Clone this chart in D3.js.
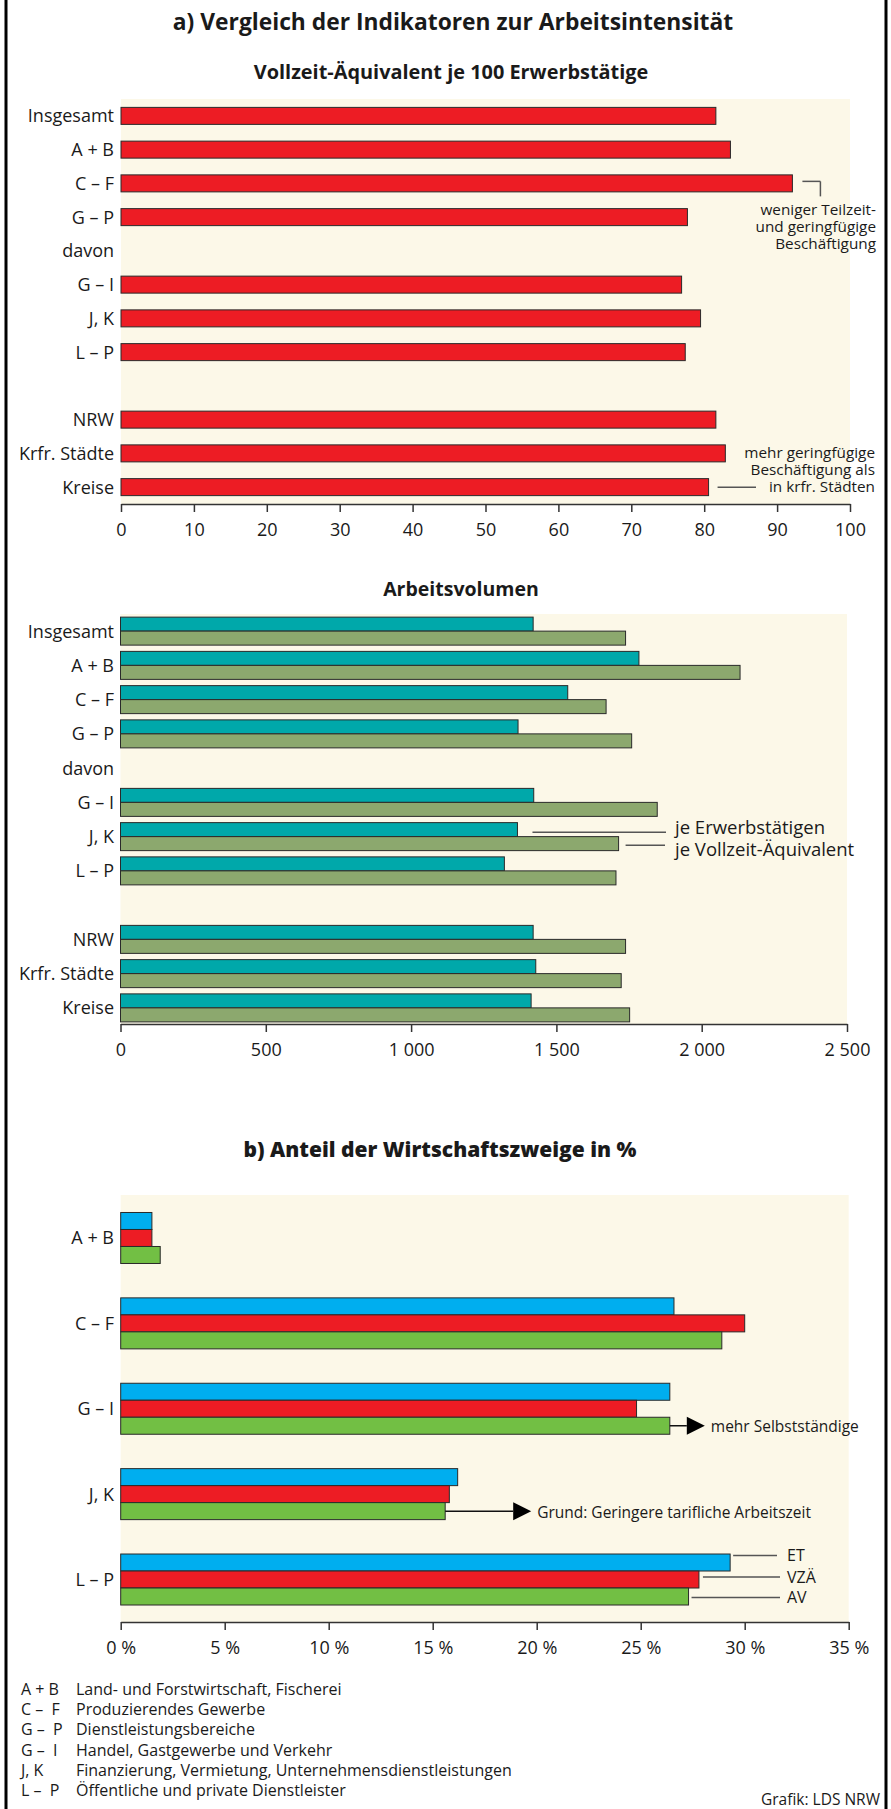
<!DOCTYPE html>
<html><head><meta charset="utf-8">
<script src="https://cdn.jsdelivr.net/npm/d3@7"></script>
<style>
body{margin:0;background:#fff}
text{font-family:"Open Sans",sans-serif;fill:#1a1a1a}
</style>
</head><body>
<svg id="c" width="891" height="1809"></svg>
<script>
// ---------- DATA ----------
const rows1 = ["Insgesamt","A + B","C – F","G – P","davon","G – I","J, K","L – P","","NRW","Krfr. Städte","Kreise"];
const vzaJe100 = [81.6,83.6,92.1,77.7,null,76.9,79.5,77.4,null,81.6,82.9,80.6];
const ticks1 = [0,10,20,30,40,50,60,70,80,90,100];
const tickLabels1 = ["0","10","20","30","40","50","60","70","80","90","100"];

const avJeET  = [1420,1784,1539,1368,null,1422,1366,1321,null,1420,1429,1413];
const avJeVZA = [1738,2132,1671,1759,null,1847,1714,1705,null,1738,1723,1752];
const ticks2 = [0,500,1000,1500,2000,2500];
const tickLabels2 = ["0","500","1 000","1 500","2 000","2 500"];

const rows3 = ["A + B","C – F","G – I","J, K","L – P"];
const series3 = ["ET","VZÄ","AV"];
const shareET  = [1.5,26.6,26.4,16.2,29.3];
const shareVZA = [1.5,30.0,24.8,15.8,27.8];
const shareAV  = [1.9,28.9,26.4,15.6,27.3];
const ticks3 = [0,5,10,15,20,25,30,35];
const tickLabels3 = ["0 %","5 %","10 %","15 %","20 %","25 %","30 %","35 %"];

const legendAbbr = ["A + B","C –  F","G –  P","G –  I","J, K","L –  P"];
const legendText = ["Land- und Forstwirtschaft, Fischerei","Produzierendes Gewerbe","Dienstleistungsbereiche",
  "Handel, Gastgewerbe und Verkehr","Finanzierung, Vermietung, Unternehmensdienstleistungen","Öffentliche und private Dienstleister"];

// ---------- STYLE ----------
const C = {bg:"#fcf8e8", red:"#ed1c24", teal:"#00a8aa", olive:"#8ca86e", blue:"#00aeef", green:"#72bf44", stroke:"#2a2a2a", ann:"#555"};
const svg = d3.select("#c");

// frame
svg.append("line").attr("x1",6).attr("x2",6).attr("y1",0).attr("y2",1809).attr("stroke","#000").attr("stroke-width",3);
svg.append("line").attr("x1",886).attr("x2",886).attr("y1",0).attr("y2",1809).attr("stroke","#000").attr("stroke-width",3);

function title(t, x, y, size, weight){
  svg.append("text").attr("x",x).attr("y",y).attr("text-anchor","middle")
    .attr("font-size",size).attr("font-weight",weight).text(t);
}
function band(domain, y0, y1, bw){
  const step = (y1-y0)/domain.length;
  const p = 1 - bw/step;
  return d3.scaleBand().domain(domain).range([y0,y1]).paddingInner(p).paddingOuter(p/2);
}
function axis(scale, y, vals, labels){
  const ax = d3.axisBottom(scale).tickValues(vals).tickFormat((d,i)=>labels[i])
    .tickSize(8).tickSizeOuter(0).tickPadding(11);
  const g = svg.append("g").attr("transform",`translate(0,${y})`).call(ax)
    .attr("font-family",null).attr("font-size",null);
  g.select(".domain").attr("stroke","#333").attr("stroke-width",1.5);
  g.selectAll(".tick line").attr("stroke","#333").attr("stroke-width",1.5);
  g.selectAll(".tick text").attr("font-size",18).attr("fill","#1a1a1a");
}
function catLabels(y, domain){
  svg.append("g").selectAll("text").data(domain).join("text")
    .attr("x",114).attr("y",d=>y(d)+y.bandwidth()/2).attr("dy","0.36em")
    .attr("text-anchor","end").attr("font-size",18).text(d=>d);
}
function annLine(x1,y1,x2,y2){
  svg.append("line").attr("x1",x1).attr("y1",y1).attr("x2",x2).attr("y2",y2)
    .attr("stroke",C.ann).attr("stroke-width",1.5);
}
function annText(t,x,y,size,anchor){
  svg.append("text").attr("x",x).attr("y",y).attr("dy","0.36em").attr("font-size",size)
    .attr("text-anchor",anchor||"start").text(t);
}
// one text element, several lines
function multiText(lines, x, y0, gap, size, anchor){
  const t = svg.append("text").attr("font-size",size).attr("text-anchor",anchor||"start");
  lines.forEach((l,i)=>t.append("tspan").attr("x",x).attr("y",y0+i*gap).attr("dy","0.36em").text(l));
  return t;
}

// ---------- TITLES ----------
title("a) Vergleich der Indikatoren zur Arbeitsintensität", 453, 30, 22.8, 700);
title("Vollzeit-Äquivalent je 100 Erwerbstätige", 451, 79, 19.9, 700);

// ---------- CHART 1 ----------
{
  const x = d3.scaleLinear().domain([0,100]).range([121,850]);
  const y = band(rows1, 99, 504, 17);
  svg.append("rect").attr("x",x(0)).attr("y",99).attr("width",x(100)-x(0)).attr("height",405).attr("fill",C.bg);
  const data = rows1.map((r,i)=>({r,v:vzaJe100[i]})).filter(d=>d.v!=null);
  svg.append("g").selectAll("rect").data(data).join("rect")
    .attr("x",x(0)).attr("y",d=>y(d.r)).attr("width",d=>x(d.v)-x(0)).attr("height",y.bandwidth())
    .attr("fill",C.red).attr("stroke",C.stroke).attr("stroke-width",1);
  catLabels(y, rows1);
  axis(x, 504, ticks1, tickLabels1);
  // annotation C–F
  const cy = y("C – F")+y.bandwidth()/2 - 2;
  const bx = x(vzaJe100[2]) + 10;
  annLine(bx, cy, bx+18, cy); annLine(bx+18, cy, bx+18, cy+15);
  multiText(["weniger Teilzeit-","und geringfügige","Beschäftigung"], 876, 209, 17, 15.3, "end");
  // annotation Kreise
  const ky = y("Kreise")+y.bandwidth()/2;
  annLine(x(vzaJe100[11])+9, ky, 756, ky);
  multiText(["mehr geringfügige","Beschäftigung als","in krfr. Städten"], 875, 452, 17.3, 15.3, "end");
}

// ---------- CHART 2 ----------
title("Arbeitsvolumen", 461, 596, 19.5, 700);
{
  const x = d3.scaleLinear().domain([0,2500]).range([120.5,847]);
  const y = band(rows1, 614, 1025, 28);
  const ys = d3.scaleBand().domain(["ET","VZA"]).range([0,y.bandwidth()]);
  svg.append("rect").attr("x",x(0)).attr("y",614).attr("width",x(2500)-x(0)).attr("height",410).attr("fill",C.bg);
  const data = [];
  rows1.forEach((r,i)=>{ if(avJeET[i]!=null){ data.push({r,s:"ET",v:avJeET[i]}); data.push({r,s:"VZA",v:avJeVZA[i]}); }});
  svg.append("g").selectAll("rect").data(data).join("rect")
    .attr("x",x(0)).attr("y",d=>y(d.r)+ys(d.s)).attr("width",d=>x(d.v)-x(0)).attr("height",ys.bandwidth())
    .attr("fill",d=>d.s==="ET"?C.teal:C.olive).attr("stroke",C.stroke).attr("stroke-width",1);
  catLabels(y, rows1);
  axis(x, 1024, ticks2, tickLabels2);
  const jy = y("J, K");
  const ty = jy + ys("ET") + ys.bandwidth()/2 + 2.5;
  const gy = jy + ys("VZA") + ys.bandwidth()/2 + 1.5;
  annLine(x(avJeET[6])+15, ty, 666, ty);
  annLine(x(avJeVZA[6])+7, gy, 665, gy);
  multiText(["je Erwerbstätigen","je Vollzeit-Äquivalent"], 675, 827, 22, 18.5);
}

// ---------- CHART 3 ----------
title("b) Anteil der Wirtschaftszweige in %", 440, 1157, 21, 800);
{
  const x = d3.scaleLinear().domain([0,35]).range([120.7,848.7]);
  const y = band(rows3, 1195.3, 1622.2, 51);
  const ys = d3.scaleBand().domain(series3).range([0,y.bandwidth()]);
  svg.append("rect").attr("x",x(0)).attr("y",1195).attr("width",x(35)-x(0)).attr("height",427).attr("fill",C.bg);
  const cols = {"ET":C.blue,"VZÄ":C.red,"AV":C.green};
  const vals = {"ET":shareET,"VZÄ":shareVZA,"AV":shareAV};
  const data = [];
  rows3.forEach((r,i)=>series3.forEach(s=>data.push({r,s,v:vals[s][i]})));
  svg.append("g").selectAll("rect").data(data).join("rect")
    .attr("x",x(0)).attr("y",d=>y(d.r)+ys(d.s)).attr("width",d=>x(d.v)-x(0)).attr("height",ys.bandwidth())
    .attr("fill",d=>cols[d.s]).attr("stroke",C.stroke).attr("stroke-width",1);
  catLabels(y, rows3);
  axis(x, 1622, ticks3, tickLabels3);

  function arrow(i, label){
    const cy = y(rows3[i]) + ys("AV") + ys.bandwidth()/2;
    const x0 = x(shareAV[i]);
    const tip = i===2 ? x0+35 : x0+86;
    svg.append("line").attr("x1",x0).attr("x2",tip-18).attr("y1",cy).attr("y2",cy).attr("stroke","#111").attr("stroke-width",1.5);
    svg.append("path").attr("d",`M${tip-18},${cy-9}L${tip},${cy}L${tip-18},${cy+9}Z`).attr("fill","#000");
    annText(label, tip+6, cy+1, 15.5);
  }
  arrow(2, "mehr Selbstständige");
  arrow(3, "Grund: Geringere tarifliche Arbeitszeit");

  // series labels at L – P
  const li = 4;
  const lbl = [["ET",shareET[li],3,-7],["VZÄ",shareVZA[li],4,-2.5],["AV",shareAV[li],3,1]];
  const ly = [];
  lbl.forEach(([s,v,gap,off])=>{
    const cy = y(rows3[li]) + ys(s) + ys.bandwidth()/2 + off;
    ly.push(cy);
    annLine(x(v)+gap, cy, s==="ET"?777:780, cy);
  });
  const t = svg.append("text").attr("font-size",16);
  lbl.forEach(([s],i)=>t.append("tspan").attr("x",787).attr("y",ly[i]).attr("dy","0.36em").text(s));
}

// ---------- LEGEND ----------
{
  const ly = d3.scalePoint().domain(d3.range(legendAbbr.length)).range([1689.5,1790]);
  const t = svg.append("text").attr("font-size",16).attr("xml:space","preserve").style("white-space","pre");
  legendAbbr.forEach((a,i)=>{
    t.append("tspan").attr("x",21).attr("y",ly(i)).attr("dy","0.36em").text(a);
    t.append("tspan").attr("x",76).attr("y",ly(i)).attr("dy","0.36em").text(legendText[i]);
  });
  svg.append("text").attr("x",880).attr("y",1799).attr("dy","0.36em").attr("text-anchor","end")
    .attr("font-size",15.5).text("Grafik: LDS NRW");
}
</script>
</body></html>
